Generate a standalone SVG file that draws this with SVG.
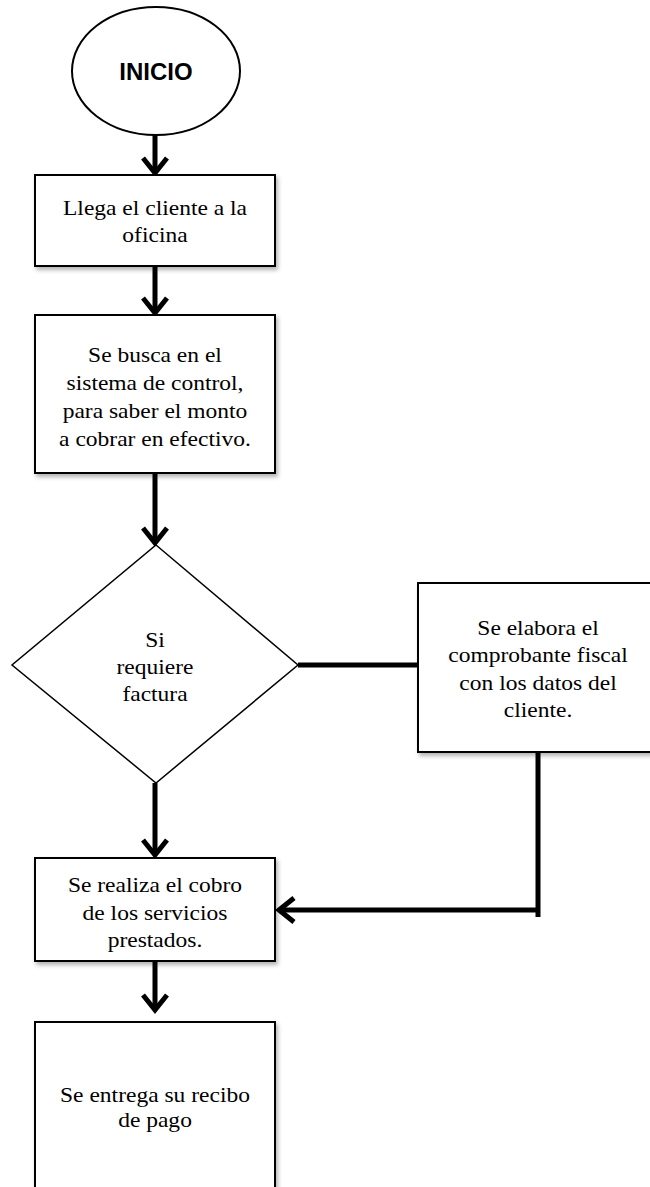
<svg xmlns="http://www.w3.org/2000/svg" width="650" height="1187" viewBox="0 0 650 1187">
<style>
.box{fill:#fff;stroke:#000;stroke-width:2;filter:url(#sh)}
.t{font-family:"Liberation Serif","Times New Roman",serif;font-size:21px;fill:#000;text-anchor:middle}
.c{fill:none;stroke:#000;stroke-width:5}
</style>
<defs>
<filter id="sh" x="-10%" y="-10%" width="130%" height="130%">
<feDropShadow dx="2" dy="3" stdDeviation="2" flood-color="#000" flood-opacity="0.3"/>
</filter>
<marker id="ah" markerUnits="userSpaceOnUse" markerWidth="30" markerHeight="34" viewBox="-20 -17 24 34" refX="0" refY="0" orient="auto">
<path d="M-15,-12 L0,0 L-15,12" fill="none" stroke="#000" stroke-width="5"/>
</marker>
</defs>
<g id="connectors">
<line class="c" x1="155" y1="135" x2="155" y2="173" marker-end="url(#ah)"/>
<line class="c" x1="155" y1="266" x2="155" y2="313" marker-end="url(#ah)"/>
<line class="c" x1="155" y1="474" x2="155" y2="543" marker-end="url(#ah)"/>
<line class="c" x1="298" y1="665" x2="418" y2="665"/>
<line class="c" x1="155" y1="783" x2="155" y2="855" marker-end="url(#ah)"/>
<polyline class="c" points="538,752 538,917"/>
<line class="c" x1="538" y1="910" x2="279" y2="910" marker-end="url(#ah)"/>
<line class="c" x1="155" y1="961" x2="155" y2="1010" marker-end="url(#ah)"/>
</g>
<g id="inicio">
<ellipse cx="156" cy="71" rx="84" ry="64" fill="#fff" stroke="#000" stroke-width="2"/>
<text x="156" y="80" font-family="Liberation Sans, Arial, sans-serif" font-size="24" font-weight="bold" text-anchor="middle">INICIO</text>
</g>
<g id="llega">
<rect class="box" x="35" y="175" width="240" height="91"/>
<g transform="translate(155,0) scale(1.12,1)">
<text class="t" x="0" y="215">Llega el cliente a la</text>
<text class="t" x="0" y="242">oficina</text>
</g>
</g>
<g id="busca">
<rect class="box" x="35" y="315" width="240" height="158"/>
<g transform="translate(155,0) scale(1.12,1)">
<text class="t" x="0" y="362">Se busca en el</text>
<text class="t" x="0" y="390">sistema de control,</text>
<text class="t" x="0" y="418">para saber el monto</text>
<text class="t" x="0" y="446">a cobrar en efectivo.</text>
</g>
</g>
<g id="decision">
<polygon points="156,545 298,665 156,783 12,665" fill="#fff" stroke="#000" stroke-width="1.5"/>
<g transform="translate(155,0) scale(1.12,1)">
<text class="t" x="0" y="647">Si</text>
<text class="t" x="0" y="674">requiere</text>
<text class="t" x="0" y="701">factura</text>
</g>
</g>
<g id="comprobante">
<rect class="box" x="418" y="583" width="240" height="169"/>
<g transform="translate(538,0) scale(1.12,1)">
<text class="t" x="0" y="635">Se elabora el</text>
<text class="t" x="0" y="662">comprobante fiscal</text>
<text class="t" x="0" y="690">con los datos del</text>
<text class="t" x="0" y="717">cliente.</text>
</g>
</g>
<g id="cobro">
<rect class="box" x="35" y="858" width="240" height="103"/>
<g transform="translate(155,0) scale(1.12,1)">
<text class="t" x="0" y="892">Se realiza el cobro</text>
<text class="t" x="0" y="920">de los servicios</text>
<text class="t" x="0" y="947">prestados.</text>
</g>
</g>
<g id="recibo">
<rect class="box" x="35" y="1022" width="240" height="180"/>
<g transform="translate(155,0) scale(1.12,1)">
<text class="t" x="0" y="1102">Se entrega su recibo</text>
<text class="t" x="0" y="1127">de pago</text>
</g>
</g>
</svg>
